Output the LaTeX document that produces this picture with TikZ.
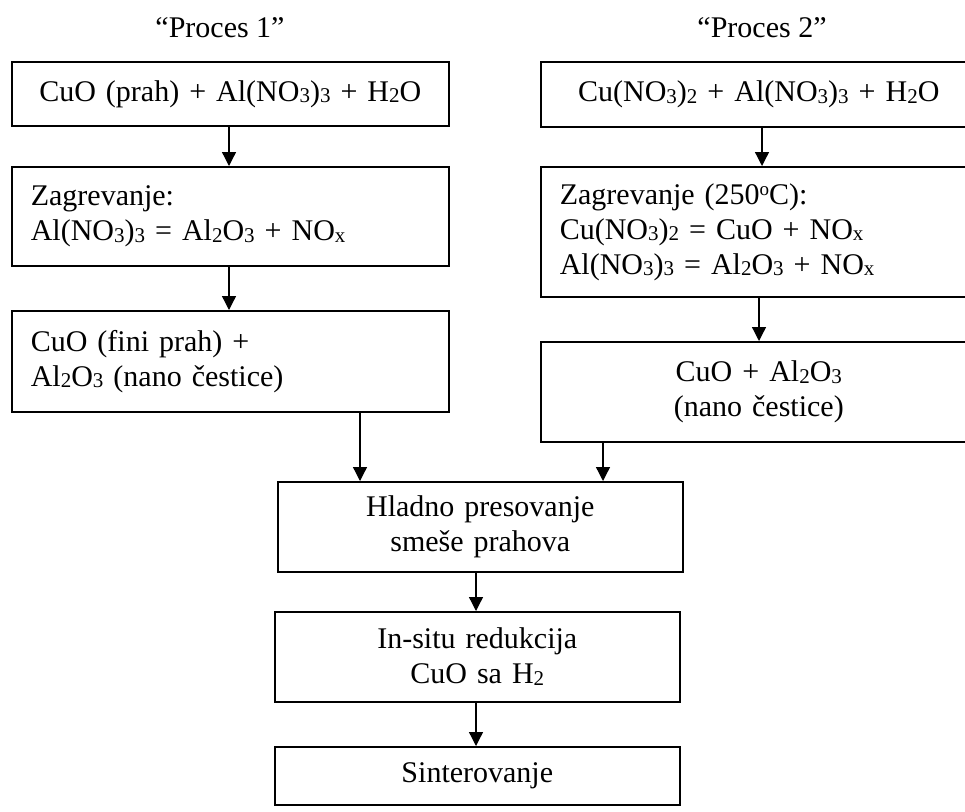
\documentclass[tikz,border=0pt]{standalone}
\usepackage{fontspec}
\setmainfont{Liberation Serif}
\usetikzlibrary{arrows.meta}
\newcommand{\sub}[1]{\raisebox{-1.5pt}{\fontsize{21}{21}\selectfont #1}}
\newcommand{\supo}{\raisebox{9pt}{\fontsize{19}{19}\selectfont o}}
\begin{document}
\begin{tikzpicture}[x=1pt,y=1pt,
  box/.style={draw, line width=1.6pt, inner xsep=19pt, inner ysep=0pt,
    anchor=north west, font=\fontsize{30}{35}\selectfont},
  title/.style={font=\fontsize{30}{35}\selectfont, inner sep=0pt},
  arr/.style={line width=1.3pt, -{Triangle[length=14pt,width=14pt]}}]
\useasboundingbox (0,0) rectangle (965,-811);
\clip (0,0) rectangle (965,-811);
% titles
\node[title] (t1) at (220,-28) {“Proces 1”};
\node[title] (t2) at (762,-28) {“Proces 2”};
% left column
\node[box, text width=399pt, minimum height=64pt, align=center] (A) at (11,-61)
  {CuO (prah) + Al(NO\sub{3})\sub{3} + H\sub{2}O};
\node[box, text width=399pt, minimum height=99pt, align=left] (C) at (11,-166)
  {Zagrevanje:\\Al(NO\sub{3})\sub{3} = Al\sub{2}O\sub{3} + NO\sub{x}};
\node[box, text width=399pt, minimum height=101pt, align=left] (E) at (11,-310)
  {CuO (fini prah) +\\Al\sub{2}O\sub{3} (nano čestice)};
% right column
\node[box, text width=398pt, minimum height=65pt, align=center] (B) at (540,-61)
  {Cu(NO\sub{3})\sub{2} + Al(NO\sub{3})\sub{3} + H\sub{2}O};
\node[box, text width=398pt, minimum height=130pt, align=left] (D) at (540,-166)
  {Zagrevanje (250\supo C):\\Cu(NO\sub{3})\sub{2} = CuO + NO\sub{x}\\Al(NO\sub{3})\sub{3} = Al\sub{2}O\sub{3} + NO\sub{x}};
\node[box, text width=398pt, minimum height=100pt, align=center] (F) at (540,-341)
  {CuO + Al\sub{2}O\sub{3}\\(nano čestice)};
% center column
\node[box, text width=367pt, minimum height=90pt, align=center] (G) at (277,-481)
  {Hladno presovanje\\smeše prahova};
\node[box, text width=367pt, minimum height=90pt, align=center] (H) at (274,-611)
  {In-situ redukcija\\CuO sa H\sub{2}};
\node[box, text width=367pt, minimum height=58pt, align=center] (I) at (274,-746)
  {Sinterovanje};
% x positions of connectors
\coordinate (xac) at (229,0);
\coordinate (xbd) at (762,0);
\coordinate (xdf) at (759,0);
\coordinate (xeg) at (360,0);
\coordinate (xfg) at (603,0);
\coordinate (xgh) at (476,0);
% connectors
\draw[arr] (A.south -| xac) -- (C.north -| xac);
\draw[arr] (C.south -| xac) -- (E.north -| xac);
\draw[arr] (B.south -| xbd) -- (D.north -| xbd);
\draw[arr] (D.south -| xdf) -- (F.north -| xdf);
\draw[arr] (E.south -| xeg) -- (G.north -| xeg);
\draw[arr] (F.south -| xfg) -- (G.north -| xfg);
\draw[arr] (G.south -| xgh) -- (H.north -| xgh);
\draw[arr] (H.south -| xgh) -- (I.north -| xgh);
\end{tikzpicture}
\end{document}
